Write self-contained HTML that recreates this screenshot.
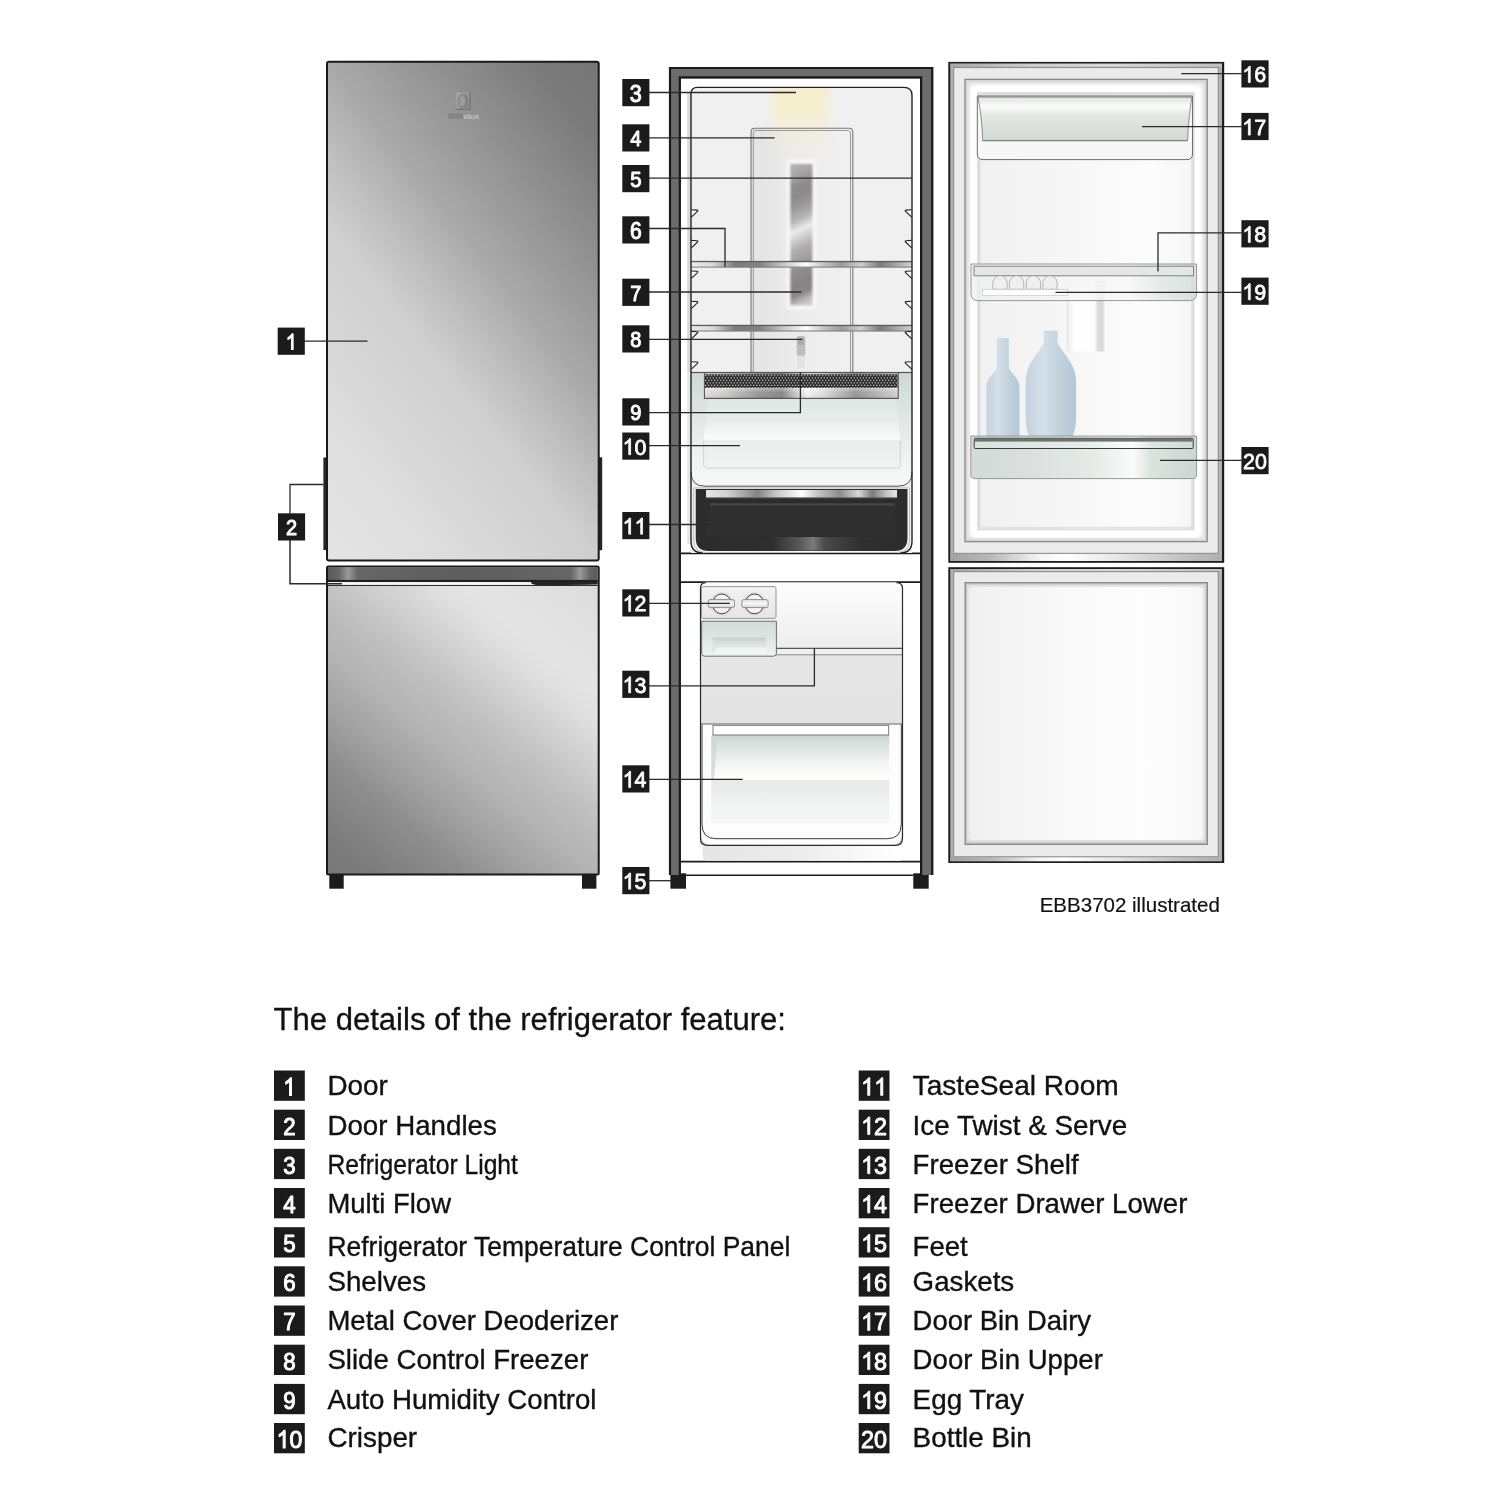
<!DOCTYPE html>
<html><head><meta charset="utf-8"><title>Refrigerator features</title>
<style>
html,body{margin:0;padding:0;background:#fff;}
body{width:1500px;height:1500px;overflow:hidden;}
svg{display:block;}
text{font-family:"Liberation Sans",sans-serif;}
</style></head><body>
<svg width="1500" height="1500" viewBox="0 0 1500 1500">
<defs>


<linearGradient id="gUp" gradientUnits="userSpaceOnUse" x1="598" y1="62" x2="189.5" y2="388.4">
 <stop offset="0" stop-color="#767676"/>
 <stop offset="0.1" stop-color="#7b7b7b"/>
 <stop offset="0.2" stop-color="#8a8a8a"/>
 <stop offset="0.405" stop-color="#a9a9a9"/>
 <stop offset="0.5" stop-color="#bdbdbd"/>
 <stop offset="0.595" stop-color="#cfcfcf"/>
 <stop offset="0.74" stop-color="#d8d8d8"/>
 <stop offset="0.85" stop-color="#dfdfdf"/>
 <stop offset="1" stop-color="#e4e4e4"/>
</linearGradient>
<linearGradient id="gLow" gradientUnits="userSpaceOnUse" x1="328" y1="875" x2="577.5" y2="574">
 <stop offset="0" stop-color="#787878"/>
 <stop offset="0.08" stop-color="#7c7c7c"/>
 <stop offset="0.23" stop-color="#8e8e8e"/>
 <stop offset="0.31" stop-color="#9e9e9e"/>
 <stop offset="0.45" stop-color="#b5b5b5"/>
 <stop offset="0.54" stop-color="#bebebe"/>
 <stop offset="0.64" stop-color="#cfcfcf"/>
 <stop offset="0.74" stop-color="#e0e0e0"/>
 <stop offset="0.8" stop-color="#e4e4e4"/>
 <stop offset="0.9" stop-color="#e1e1e1"/>
 <stop offset="1" stop-color="#dbdbdb"/>
</linearGradient>
<linearGradient id="gLogo" x1="0" y1="0" x2="1" y2="1">
 <stop offset="0" stop-color="#b2b2b2"/>
 <stop offset="0.5" stop-color="#9e9e9e"/>
 <stop offset="1" stop-color="#868686"/>
</linearGradient>
<linearGradient id="gBand" x1="0" y1="0" x2="1" y2="0">
 <stop offset="0" stop-color="#5a5a5a"/>
 <stop offset="0.04" stop-color="#666"/>
 <stop offset="0.075" stop-color="#9a9a9a"/>
 <stop offset="0.11" stop-color="#666"/>
 <stop offset="0.5" stop-color="#5e5e5e"/>
 <stop offset="0.90" stop-color="#666"/>
 <stop offset="0.935" stop-color="#9a9a9a"/>
 <stop offset="0.97" stop-color="#666"/>
 <stop offset="1" stop-color="#5a5a5a"/>
</linearGradient>
<linearGradient id="gShelf" gradientUnits="userSpaceOnUse" x1="691" y1="0" x2="912" y2="0">
 <stop offset="0" stop-color="#ececec"/>
 <stop offset="0.10" stop-color="#d8d8d8"/>
 <stop offset="0.20" stop-color="#7c7c7c"/>
 <stop offset="0.31" stop-color="#828282"/>
 <stop offset="0.42" stop-color="#c8c8c8"/>
 <stop offset="0.52" stop-color="#ffffff"/>
 <stop offset="0.60" stop-color="#c4c4c4"/>
 <stop offset="0.68" stop-color="#9a9a9a"/>
 <stop offset="0.77" stop-color="#cfcfcf"/>
 <stop offset="0.855" stop-color="#7a7a7a"/>
 <stop offset="0.93" stop-color="#a8a8a8"/>
 <stop offset="1" stop-color="#d0d0d0"/>
</linearGradient>
<linearGradient id="gMC" gradientUnits="userSpaceOnUse" x1="790" y1="163" x2="846.5" y2="285.7">
 <stop offset="0" stop-color="#b6b2b3"/>
 <stop offset="0.041" stop-color="#b3afb0"/>
 <stop offset="0.11" stop-color="#a5a1a2"/>
 <stop offset="0.175" stop-color="#908c8d"/>
 <stop offset="0.249" stop-color="#8f8b8c"/>
 <stop offset="0.323" stop-color="#9c999a"/>
 <stop offset="0.404" stop-color="#b6b4b4"/>
 <stop offset="0.478" stop-color="#ececec"/>
 <stop offset="0.532" stop-color="#d0cfcf"/>
 <stop offset="0.612" stop-color="#aeacac"/>
 <stop offset="0.666" stop-color="#a5a3a3"/>
 <stop offset="0.747" stop-color="#918e8f"/>
 <stop offset="0.848" stop-color="#858283"/>
 <stop offset="0.915" stop-color="#8c898a"/>
 <stop offset="0.962" stop-color="#b9b7b7"/>
 <stop offset="1" stop-color="#cccbcb"/>
</linearGradient>
<linearGradient id="gMetalV" x1="0" y1="0" x2="0.6" y2="1">
 <stop offset="0" stop-color="#aaa6a7"/>
 <stop offset="0.12" stop-color="#8d898a"/>
 <stop offset="0.30" stop-color="#8a8788"/>
 <stop offset="0.44" stop-color="#c9c7c7"/>
 <stop offset="0.52" stop-color="#e6e5e5"/>
 <stop offset="0.62" stop-color="#b5b2b3"/>
 <stop offset="0.78" stop-color="#8a8788"/>
 <stop offset="0.9" stop-color="#9a9898"/>
 <stop offset="1" stop-color="#c8c6c6"/>
</linearGradient>
<linearGradient id="gMetalV2" x1="0" y1="0" x2="0.8" y2="1">
 <stop offset="0" stop-color="#9a9797"/>
 <stop offset="0.35" stop-color="#8a8788"/>
 <stop offset="0.55" stop-color="#7c797a"/>
 <stop offset="0.75" stop-color="#a5a3a3"/>
 <stop offset="1" stop-color="#d2d1d1"/>
</linearGradient>
<linearGradient id="gMF" x1="0" y1="0" x2="1" y2="0">
 <stop offset="0" stop-color="#e3e3e3"/>
 <stop offset="0.35" stop-color="#eaeaea"/>
 <stop offset="0.7" stop-color="#efefef"/>
 <stop offset="1" stop-color="#f0f0f0"/>
</linearGradient>
<radialGradient id="gGlow" cx="0.5" cy="0" r="1" gradientTransform="matrix(0.62 0 0 1 0.19 0)">
 <stop offset="0" stop-color="#f6edc6" stop-opacity="1"/>
 <stop offset="0.55" stop-color="#f6efcf" stop-opacity="0.85"/>
 <stop offset="1" stop-color="#f4f0dc" stop-opacity="0"/>
</radialGradient>
<linearGradient id="gGlowH" x1="0" y1="0" x2="1" y2="0">
 <stop offset="0" stop-color="#f5eecb" stop-opacity="0"/>
 <stop offset="0.22" stop-color="#f5eecb" stop-opacity="0.95"/>
 <stop offset="0.78" stop-color="#f5eecb" stop-opacity="0.95"/>
 <stop offset="1" stop-color="#f5eecb" stop-opacity="0"/>
</linearGradient>
<linearGradient id="gGlowV" x1="0" y1="0" x2="0" y2="1">
 <stop offset="0" stop-color="#fff" stop-opacity="1"/>
 <stop offset="0.35" stop-color="#fff" stop-opacity="0.9"/>
 <stop offset="0.55" stop-color="#fff" stop-opacity="0.45"/>
 <stop offset="0.85" stop-color="#fff" stop-opacity="0.12"/>
 <stop offset="1" stop-color="#fff" stop-opacity="0"/>
</linearGradient>
<mask id="mGlow" maskUnits="userSpaceOnUse" x="755" y="85" width="92" height="80"><rect x="755" y="85" width="92" height="80" fill="url(#gGlowV)"/></mask>
<linearGradient id="gCrisp" x1="0" y1="0" x2="0" y2="1">
 <stop offset="0" stop-color="#dfe7e4"/>
 <stop offset="0.30" stop-color="#e6ece9"/>
 <stop offset="0.58" stop-color="#fbfcfb"/>
 <stop offset="0.60" stop-color="#e9eeec"/>
 <stop offset="1" stop-color="#f1f4f3"/>
</linearGradient>
<linearGradient id="gCrispOut" x1="0" y1="0" x2="0" y2="1">
 <stop offset="0" stop-color="#cdd8d5"/>
 <stop offset="0.45" stop-color="#e2e9e7"/>
 <stop offset="0.8" stop-color="#f1f4f3"/>
 <stop offset="1" stop-color="#f6f8f7"/>
</linearGradient>
<linearGradient id="gHumMetal" x1="0" y1="0" x2="1" y2="0">
 <stop offset="0" stop-color="#e4dedc"/>
 <stop offset="0.1" stop-color="#d2cdcc"/>
 <stop offset="0.28" stop-color="#9b9899"/>
 <stop offset="0.40" stop-color="#8a8889"/>
 <stop offset="0.48" stop-color="#d0d0d0"/>
 <stop offset="0.53" stop-color="#f4f4f4"/>
 <stop offset="0.62" stop-color="#dcdcdc"/>
 <stop offset="0.78" stop-color="#9a9899"/>
 <stop offset="0.9" stop-color="#b8b6b6"/>
 <stop offset="1" stop-color="#d6d4d4"/>
</linearGradient>
<linearGradient id="gHumV" x1="0" y1="0" x2="0" y2="1">
 <stop offset="0" stop-color="#fff" stop-opacity="0.45"/>
 <stop offset="0.5" stop-color="#fff" stop-opacity="0"/>
 <stop offset="1" stop-color="#000" stop-opacity="0.12"/>
</linearGradient>
<pattern id="pMesh" x="705" y="374.3" width="3" height="4.9" patternUnits="userSpaceOnUse">
 <rect width="3" height="4.9" fill="#242424"/>
 <circle cx="0.75" cy="1.22" r="0.78" fill="#d2d2d2"/>
 <circle cx="2.25" cy="3.67" r="0.78" fill="#d2d2d2"/>
</pattern>
<linearGradient id="gTSStrip" x1="0" y1="0" x2="1" y2="0">
 <stop offset="0" stop-color="#e8e6e6"/>
 <stop offset="0.12" stop-color="#d0cdcd"/>
 <stop offset="0.27" stop-color="#858283"/>
 <stop offset="0.36" stop-color="#c4c2c2"/>
 <stop offset="0.50" stop-color="#ffffff"/>
 <stop offset="0.58" stop-color="#c9c7c7"/>
 <stop offset="0.70" stop-color="#8e8b8c"/>
 <stop offset="0.80" stop-color="#d8d6d6"/>
 <stop offset="0.87" stop-color="#7d7a7b"/>
 <stop offset="0.95" stop-color="#c8c6c6"/>
 <stop offset="1" stop-color="#e5e5e5"/>
</linearGradient>
<linearGradient id="gTSHi" x1="0" y1="0" x2="1" y2="0">
 <stop offset="0" stop-color="#2c2c2c"/>
 <stop offset="0.35" stop-color="#2e2e2e"/>
 <stop offset="0.50" stop-color="#5c5c5c"/>
 <stop offset="0.56" stop-color="#7a7a7a"/>
 <stop offset="0.62" stop-color="#4a4a4a"/>
 <stop offset="0.8" stop-color="#303030"/>
 <stop offset="1" stop-color="#2c2c2c"/>
</linearGradient>
<linearGradient id="gFrzUp" x1="0" y1="0" x2="0" y2="1">
 <stop offset="0" stop-color="#fdfdfd"/>
 <stop offset="1" stop-color="#eeeeee"/>
</linearGradient>
<linearGradient id="gFrzLow" x1="0" y1="0" x2="0" y2="1">
 <stop offset="0" stop-color="#ececec"/>
 <stop offset="1" stop-color="#dadada"/>
</linearGradient>
<linearGradient id="gDrw" x1="0" y1="0" x2="0" y2="1">
 <stop offset="0" stop-color="#c6d0cd"/>
 <stop offset="0.06" stop-color="#d4dcd9"/>
 <stop offset="0.3" stop-color="#f0f3f1"/>
 <stop offset="0.45" stop-color="#fcfcfb"/>
 <stop offset="0.505" stop-color="#ffffff"/>
 <stop offset="0.515" stop-color="#e6ebe8"/>
 <stop offset="0.8" stop-color="#f0f3f1"/>
 <stop offset="1" stop-color="#f6f7f6"/>
</linearGradient>
<linearGradient id="gUnder" x1="0" y1="0" x2="1" y2="0">
 <stop offset="0" stop-color="#e6e6e6"/>
 <stop offset="0.5" stop-color="#ececec"/>
 <stop offset="0.85" stop-color="#fbfbfb"/>
 <stop offset="1" stop-color="#ffffff"/>
</linearGradient>
<linearGradient id="gIce" x1="0" y1="0" x2="0" y2="1">
 <stop offset="0" stop-color="#d2dcd8"/>
 <stop offset="0.45" stop-color="#dde5e2"/>
 <stop offset="1" stop-color="#eef3f1"/>
</linearGradient>
<linearGradient id="gRecess" x1="0" y1="0" x2="0" y2="1">
 <stop offset="0" stop-color="#c4cfcb"/>
 <stop offset="0.45" stop-color="#d6dfdb"/>
 <stop offset="1" stop-color="#e2e9e6"/>
</linearGradient>
<linearGradient id="gKnobBox" x1="0" y1="0" x2="0" y2="1">
 <stop offset="0" stop-color="#f3f3f3"/>
 <stop offset="1" stop-color="#e6e6e6"/>
</linearGradient>
<linearGradient id="gKnobBar" x1="0" y1="0" x2="0" y2="1">
 <stop offset="0" stop-color="#e0e0e0"/>
 <stop offset="0.5" stop-color="#f8f8f8"/>
 <stop offset="1" stop-color="#d4d4d4"/>
</linearGradient>
<linearGradient id="gDoorBandB" gradientUnits="userSpaceOnUse" x1="950" y1="0" x2="1222" y2="0">
 <stop offset="0" stop-color="#a2a2a2"/>
 <stop offset="0.15" stop-color="#b8b8b8"/>
 <stop offset="0.32" stop-color="#f2f2f2"/>
 <stop offset="0.42" stop-color="#ffffff"/>
 <stop offset="0.6" stop-color="#e8e8e8"/>
 <stop offset="0.85" stop-color="#c2c2c2"/>
 <stop offset="1" stop-color="#b0b0b0"/>
</linearGradient>
<linearGradient id="gDoorBandT" gradientUnits="userSpaceOnUse" x1="950" y1="0" x2="1222" y2="0">
 <stop offset="0" stop-color="#a6a6a6"/>
 <stop offset="0.3" stop-color="#cfcfcf"/>
 <stop offset="0.6" stop-color="#d8d8d8"/>
 <stop offset="1" stop-color="#c0c0c0"/>
</linearGradient>
<linearGradient id="gInnerPanel" x1="0" y1="0" x2="1" y2="0">
 <stop offset="0" stop-color="#f1f1f1"/>
 <stop offset="0.45" stop-color="#f8f7f7"/>
 <stop offset="0.8" stop-color="#fdfcfc"/>
 <stop offset="1" stop-color="#f6f6f6"/>
</linearGradient>
<linearGradient id="gLowPanel" x1="0" y1="0" x2="1" y2="0">
 <stop offset="0" stop-color="#f0f0f0"/>
 <stop offset="0.3" stop-color="#f7f7f7"/>
 <stop offset="0.75" stop-color="#fefdfd"/>
 <stop offset="1" stop-color="#f7f7f7"/>
</linearGradient>
<linearGradient id="gDairyLid" x1="0" y1="0" x2="0" y2="1">
 <stop offset="0" stop-color="#dfe3e0"/>
 <stop offset="0.10" stop-color="#eceeec"/>
 <stop offset="0.22" stop-color="#fbfcfb"/>
 <stop offset="0.40" stop-color="#e6e9e6"/>
 <stop offset="0.7" stop-color="#d9e0dc"/>
 <stop offset="1" stop-color="#d3dbd7"/>
</linearGradient>
<linearGradient id="gBinH" gradientUnits="userSpaceOnUse" x1="971" y1="0" x2="1196" y2="0">
 <stop offset="0" stop-color="#d2dbd7"/>
 <stop offset="0.25" stop-color="#d9e0dd"/>
 <stop offset="0.55" stop-color="#e6ebe8"/>
 <stop offset="0.72" stop-color="#fafbfa"/>
 <stop offset="0.80" stop-color="#dbe3df"/>
 <stop offset="1" stop-color="#ccd6d2"/>
</linearGradient>
<linearGradient id="gBinLid" gradientUnits="userSpaceOnUse" x1="974" y1="0" x2="1193" y2="0">
 <stop offset="0" stop-color="#d8e2dd"/>
 <stop offset="0.5" stop-color="#e6ece9"/>
 <stop offset="0.72" stop-color="#fcfdfc"/>
 <stop offset="0.82" stop-color="#dde5e1"/>
 <stop offset="1" stop-color="#d0dad6"/>
</linearGradient>
<linearGradient id="gBin18" gradientUnits="userSpaceOnUse" x1="971" y1="0" x2="1196" y2="0">
 <stop offset="0" stop-color="#eef1ef"/>
 <stop offset="0.45" stop-color="#f4f5f4"/>
 <stop offset="0.70" stop-color="#f7f8f7"/>
 <stop offset="0.85" stop-color="#dfe6e3"/>
 <stop offset="1" stop-color="#d3dcd9"/>
</linearGradient>
<linearGradient id="gBottle" x1="0" y1="0" x2="1" y2="0">
 <stop offset="0" stop-color="#c3d2df"/>
 <stop offset="0.35" stop-color="#d4dfe8"/>
 <stop offset="0.7" stop-color="#c0d0dc"/>
 <stop offset="1" stop-color="#b4c7d5"/>
</linearGradient>
<linearGradient id="gCarton" x1="0" y1="0" x2="1" y2="0">
 <stop offset="0" stop-color="#e8e8e8"/>
 <stop offset="0.08" stop-color="#f3f3f3"/>
 <stop offset="0.2" stop-color="#ffffff"/>
 <stop offset="0.72" stop-color="#fdfdfd"/>
 <stop offset="0.78" stop-color="#e4e4e4"/>
 <stop offset="0.84" stop-color="#d9d9d9"/>
 <stop offset="0.94" stop-color="#dcdcdc"/>
 <stop offset="0.98" stop-color="#f2f2f2"/>
 <stop offset="1" stop-color="#fafafa"/>
</linearGradient>
<filter id="gray" filterUnits="userSpaceOnUse" x="0" y="0" width="1500" height="1500" color-interpolation-filters="sRGB"><feColorMatrix type="saturate" values="0"/></filter>
<filter id="blur1" x="-20%" y="-20%" width="140%" height="140%"><feGaussianBlur stdDeviation="0.8"/></filter>
<filter id="blur2" x="-30%" y="-10%" width="160%" height="120%"><feGaussianBlur stdDeviation="1.6"/></filter>
<filter id="blur05" x="-20%" y="-20%" width="140%" height="140%"><feGaussianBlur stdDeviation="0.5"/></filter>
</defs>

<g id="left-fridge">
<rect x="323.4" y="457.5" width="4" height="92.5" fill="#262626"/>
<rect x="598.4" y="457.2" width="3.8" height="93" rx="0.8" fill="#262626"/>
<rect x="327" y="61.7" width="271.7" height="498.8" rx="2" fill="url(#gUp)" stroke="#1a1a1a" stroke-width="2"/>
<g opacity="0.62" filter="url(#blur05)"><rect x="455.9" y="92.3" width="14.2" height="17" fill="url(#gLogo)"/><path d="M470.1 92.3 V109.3 H455.9" fill="none" stroke="#646464" stroke-width="1.3"/><path d="M459 96.6 C461.6 94.4 465 94.4 467.4 96.6 V105.4 C465 107.6 461.6 107.6 459 105.4 Z" fill="#9c9c9c" stroke="#6e6e6e" stroke-width="1"/><path d="M464.6 95.4 C466.8 98 466.8 104 464.6 106.6" fill="none" stroke="#6a6a6a" stroke-width="1.1"/><path d="M459.4 96.8 L464 101 L459.4 105.2" fill="none" stroke="#b9b9b9" stroke-width="0.9"/><rect x="448.2" y="113.2" width="15.2" height="5.8" fill="#7c7c7c"/><text x="463.2" y="119.4" font-size="7.6" font-weight="bold" fill="#e2e2e2" textLength="16" lengthAdjust="spacingAndGlyphs">olux</text></g>
<rect x="329.3" y="873" width="14.4" height="15.7" fill="#1c1c1c"/>
<rect x="582" y="873" width="14.4" height="15.7" fill="#1c1c1c"/>
<rect x="327" y="566.4" width="271.7" height="308" rx="1.5" fill="url(#gLow)" stroke="#1a1a1a" stroke-width="2"/>
<rect x="328" y="567.2" width="269.7" height="13.2" fill="url(#gBand)"/>
<rect x="328" y="579.9" width="269.7" height="2.2" fill="#1e1e1e"/>
<rect x="328" y="582.1" width="269.7" height="2.6" fill="#f6f6f6"/>
<path d="M531 582 Q534 581.8 540 581.6 H597.7 V584.6 Q560 585.4 536 584.9 Q531.5 584.6 531 582 Z" fill="#242424"/>
<path d="M328 585.5 H597.7" stroke="#2c2c2c" stroke-width="1"/>
</g>
<g id="center-fridge">
<rect x="670.4" y="873.3" width="15.6" height="15.4" fill="#1c1c1c"/>
<rect x="913.3" y="873.3" width="15.4" height="15.4" fill="#1c1c1c"/>
<path d="M669 875 V67 H933.2 V875 H920 V78.4 H681 V875 Z" fill="#6c6c6c"/>
<path d="M670 875 V68 H932.2 V875" fill="none" stroke="#1a1a1a" stroke-width="2.2"/>
<path d="M679.8 875 V77.3 H921.1 V875" fill="none" stroke="#1a1a1a" stroke-width="2.2"/>
<path d="M686 875.3 H913.3" stroke="#1a1a1a" stroke-width="1.6" fill="none"/>
<path d="M681 861.7 H920" stroke="#1a1a1a" stroke-width="1.7" fill="none"/>
<path d="M681 553.4 H920" stroke="#1a1a1a" stroke-width="1.6" fill="none"/>
<path d="M681 582.2 H920" stroke="#1a1a1a" stroke-width="1.8" fill="none"/>
<rect x="687.2" y="92" width="3.4" height="280" fill="#d9d9d9"/>
<rect x="687.2" y="372" width="3.4" height="172" fill="#e4e8e6"/>
<path d="M691 553 V94 Q691 87.4 697.6 87.4 H904 Q912 87.4 912 95.4 V553 Z" fill="#f1f0f1"/>
<path d="M771.8 87.9 H829.6 L825.6 92.8 H775.8 Z" fill="#f9ead0"/>
<path d="M771.8 87.9 L775.8 92.8 M829.6 87.9 L825.6 92.8" stroke="#e9e2d2" stroke-width="0.8" fill="none"/>
<path d="M751 372 V132 Q751 128.2 754.8 128.2 H849 Q852.8 128.2 852.8 132 V372 Z" fill="url(#gMF)"/>
<g mask="url(#mGlow)"><rect x="764" y="92" width="72" height="75" fill="url(#gGlowH)"/></g>
<path d="M751 372.5 V132 Q751 128.2 754.8 128.2 H849 Q852.8 128.2 852.8 132 V372.5" fill="none" stroke="#777" stroke-width="1.1"/>
<path d="M753.3 372.5 V133.2 Q753.3 130.5 756 130.5 H847.8 Q850.5 130.5 850.5 133.2 V372.5" fill="none" stroke="#9a9a9a" stroke-width="1"/>
<rect x="786.5" y="159.5" width="29.5" height="150" rx="2" fill="#fbfbfb" opacity="0.75" filter="url(#blur2)"/>
<rect x="790.4" y="164" width="22" height="141.4" fill="url(#gMC)" filter="url(#blur1)"/>
<rect x="796.7" y="336" width="8.6" height="19.8" rx="2" fill="#bdbdbd"/>
<rect x="798" y="338" width="6" height="7" rx="1.5" fill="#a9a9a9"/>
<rect x="797.2" y="356" width="7.6" height="12" fill="#dedede" opacity="0.7"/>
<rect x="691" y="261.3" width="221" height="6" fill="url(#gShelf)"/>
<rect x="691" y="260.90000000000003" width="221" height="1.3" fill="#5c5c5c"/>
<rect x="691" y="266.6" width="221" height="1" fill="#7c7c7c"/>
<rect x="691" y="325.2" width="221" height="6" fill="url(#gShelf)"/>
<rect x="691" y="324.8" width="221" height="1.3" fill="#5c5c5c"/>
<rect x="691" y="330.5" width="221" height="1" fill="#7c7c7c"/>
<path d="M691.3 209.8 L697 210.1 Q698.4 210.4 697.4 211.4 L691.3 217.2" fill="#fff" stroke="#222" stroke-width="1.15" stroke-linejoin="round"/>
<path d="M911.7 209.8 L906 210.1 Q904.6 210.4 905.6 211.4 L911.7 217.2" fill="#fff" stroke="#222" stroke-width="1.15" stroke-linejoin="round"/>
<path d="M691.3 240.4 L697 240.7 Q698.4 241.0 697.4 242.0 L691.3 247.79999999999998" fill="#fff" stroke="#222" stroke-width="1.15" stroke-linejoin="round"/>
<path d="M911.7 240.4 L906 240.7 Q904.6 241.0 905.6 242.0 L911.7 247.79999999999998" fill="#fff" stroke="#222" stroke-width="1.15" stroke-linejoin="round"/>
<path d="M691.3 271.0 L697 271.3 Q698.4 271.59999999999997 697.4 272.59999999999997 L691.3 278.4" fill="#fff" stroke="#222" stroke-width="1.15" stroke-linejoin="round"/>
<path d="M911.7 271.0 L906 271.3 Q904.6 271.59999999999997 905.6 272.59999999999997 L911.7 278.4" fill="#fff" stroke="#222" stroke-width="1.15" stroke-linejoin="round"/>
<path d="M691.3 301.3 L697 301.6 Q698.4 301.9 697.4 302.9 L691.3 308.7" fill="#fff" stroke="#222" stroke-width="1.15" stroke-linejoin="round"/>
<path d="M911.7 301.3 L906 301.6 Q904.6 301.9 905.6 302.9 L911.7 308.7" fill="#fff" stroke="#222" stroke-width="1.15" stroke-linejoin="round"/>
<path d="M691.3 331.40000000000003 L697 331.70000000000005 Q698.4 332.0 697.4 333.0 L691.3 338.8" fill="#fff" stroke="#222" stroke-width="1.15" stroke-linejoin="round"/>
<path d="M911.7 331.40000000000003 L906 331.70000000000005 Q904.6 332.0 905.6 333.0 L911.7 338.8" fill="#fff" stroke="#222" stroke-width="1.15" stroke-linejoin="round"/>
<path d="M691.3 361.7 L697 362.0 Q698.4 362.29999999999995 697.4 363.29999999999995 L691.3 369.09999999999997" fill="#fff" stroke="#222" stroke-width="1.15" stroke-linejoin="round"/>
<path d="M911.7 361.7 L906 362.0 Q904.6 362.29999999999995 905.6 363.29999999999995 L911.7 369.09999999999997" fill="#fff" stroke="#222" stroke-width="1.15" stroke-linejoin="round"/>
<path d="M691 372.5 H912 V472 Q912 486.2 898 486.2 H705 Q691 486.2 691 472 Z" fill="url(#gCrispOut)"/>
<path d="M708 399 H896 L900.4 441 V465 Q900.4 468 897.4 468 H706.6 Q703.6 468 703.6 465 V441 Z" fill="url(#gCrisp)"/>
<path d="M703.6 441 V465 Q703.6 468 706.6 468 H897.4 Q900.4 468 900.4 465 V441" fill="none" stroke="#cbd2cf" stroke-width="0.9"/>
<path d="M691 472 Q691 486.2 705 486.2 H898 Q912 486.2 912 472" fill="none" stroke="#4d524f" stroke-width="1"/>
<rect x="704.3" y="372.5" width="194" height="26.2" fill="url(#gHumMetal)"/>
<rect x="704.3" y="386.5" width="194" height="12.2" fill="url(#gHumV)"/>
<rect x="705" y="374.3" width="192.6" height="13.5" fill="url(#pMesh)"/>
<rect x="704.4" y="372.6" width="193.8" height="25.8" fill="none" stroke="#4c4c4c" stroke-width="1"/>
<rect x="691" y="371.9" width="221" height="1.2" fill="#555"/>
<path d="M691 486.2 V541 Q691 553 703 553" fill="none" stroke="#222" stroke-width="1.4"/>
<path d="M912 486.2 V541 Q912 553 900 553" fill="none" stroke="#222" stroke-width="1.4"/>
<path d="M693.8 488 H909.4 V540 Q909.4 552.4 897 552.4 H706.2 Q693.8 552.4 693.8 540 Z" fill="#fff" stroke="#9a9a9a" stroke-width="0.7"/>
<path d="M695.7 489 H907.5 V538 Q907.5 551 894.5 551 H708.7 Q695.7 551 695.7 538 Z" fill="#2c2c2c"/>
<rect x="706" y="490" width="191" height="7.9" fill="url(#gTSStrip)"/>
<rect x="706" y="497.4" width="191" height="1" fill="#555"/>
<path d="M710 503.5 H895 L896.5 534 Q896.5 536 894.5 536 H706.5 Q704.5 536 704.8 534 Z" fill="#303030"/>
<rect x="710" y="503.3" width="185" height="2.2" fill="#474747" filter="url(#blur05)"/>
<path d="M705 537 H898 V544 Q896 550.6 890 550.6 H712 Q706 550.6 705 544 Z" fill="url(#gTSHi)"/>
<path d="M691 486.5 V94 Q691 87.4 697.6 87.4 H904 Q912 87.4 912 95.4 V486.5" fill="none" stroke="#222" stroke-width="1.4"/>
<path d="M700 845.3 V588 Q700 582.6 705.4 582.6 H896 Q902 582.6 902 588.6 V845.3 Z" fill="url(#gFrzLow)"/>
<path d="M700 648.4 V588 Q700 582.6 705.4 582.6 H896 Q902 582.6 902 588.6 V648.4 Z" fill="url(#gFrzUp)"/>
<rect x="776" y="648.4" width="126" height="6.4" fill="#efefef"/>
<path d="M776 648.4 H902" stroke="#555" stroke-width="1.1"/>
<path d="M776 654.8 H902" stroke="#888" stroke-width="1"/>
<rect x="701.3" y="586.6" width="74.7" height="31.8" rx="2" fill="url(#gKnobBox)" stroke="#8a8a8a" stroke-width="0.9"/>
<ellipse cx="721.8" cy="603.9" rx="11.2" ry="11.4" fill="none" stroke="#e0e0e0" stroke-width="1.6"/>
<ellipse cx="721.8" cy="603.9" rx="9.4" ry="9.9" fill="#f4f4f4" stroke="#3c3c3c" stroke-width="1"/>
<rect x="708.3" y="599.6" width="26.2" height="8" rx="1.8" fill="url(#gKnobBar)" stroke="#777" stroke-width="0.8"/>
<ellipse cx="754.5" cy="603.9" rx="11.2" ry="11.4" fill="none" stroke="#e0e0e0" stroke-width="1.6"/>
<ellipse cx="754.5" cy="603.9" rx="9.4" ry="9.9" fill="#f4f4f4" stroke="#3c3c3c" stroke-width="1"/>
<rect x="741.9" y="599.6" width="26.2" height="8" rx="1.8" fill="url(#gKnobBar)" stroke="#777" stroke-width="0.8"/>
<path d="M701.7 621.2 H776.4 V653.2 Q776.4 656.2 773.4 656.2 H704.7 Q701.7 656.2 701.7 653.2 Z" fill="url(#gIce)" stroke="#5a605d" stroke-width="0.9"/>
<path d="M712 637.5 H766 V648 H712 Z" fill="url(#gRecess)" filter="url(#blur05)"/>
<path d="M716.8 647.6 H766.4 V653.6 H712.6 Z" fill="#f1f5f3"/>
<path d="M712 638 V653.4 L716.8 647.6" fill="#dfe6e3" stroke="none"/>
<path d="M700.6 724 H902 V832 Q902 845.3 889 845.3 H713.6 Q700.6 845.3 700.6 832 Z" fill="#fdfdfd"/>
<path d="M700 724 H902" stroke="#666" stroke-width="1"/>
<rect x="711.3" y="735" width="178" height="87.7" rx="2" fill="url(#gDrw)"/>
<path d="M711.3 736 L717.5 736 L714 780 L711.3 780 Z" fill="#cfd8d5" opacity="0.8"/>
<rect x="713" y="725.3" width="175.7" height="9.7" fill="#fff" stroke="#6d6d6d" stroke-width="0.9"/>
<path d="M702 724.5 V824 Q702 838.7 716 838.7 H887.3 Q901.3 838.7 901.3 824 V724.5" fill="none" stroke="#3a3d3c" stroke-width="1"/>
<path d="M702.4 846 H901 V860.8 H708 Q702.4 860.8 702.4 855 Z" fill="url(#gUnder)"/>
<path d="M706 582.6 Q700.5 582.6 700.5 588 V838 Q700.5 845.4 707.8 845.4 H895.2 Q902.5 845.4 902.5 838 V588.6 Q902.5 582.6 896.5 582.6" fill="none" stroke="#2a2a2a" stroke-width="1.2"/>
</g>
<g id="right-doors">
<rect x="948.3" y="61.9" width="275.9000000000001" height="500.9" fill="#1d1d1d"/>
<rect x="950.3" y="63.699999999999996" width="271.70000000000005" height="497.3" fill="#b2b2b2"/>
<rect x="950.3" y="63.699999999999996" width="271.70000000000005" height="3.2" fill="url(#gDoorBandT)"/>
<rect x="950.3" y="553.8" width="271.70000000000005" height="7.2" fill="url(#gDoorBandB)"/>
<rect x="953.0999999999999" y="66.89999999999999" width="265.70000000000005" height="486.9" fill="#8f8f8f"/>
<rect x="954.1999999999999" y="68.1" width="263.50000000000006" height="484.7" fill="#ebebeb"/>
<rect x="964.3" y="78.7" width="243.6" height="463.6" fill="#8a8a8a"/>
<rect x="965.6" y="80" width="241" height="461" fill="#d4d4d4"/>
<rect x="967.2" y="81.8" width="237.6" height="457.6" rx="3" fill="#e6e6e6"/>
<rect x="969.2" y="84" width="233.4" height="454" rx="5" fill="#f6f6f6"/>
<rect x="971" y="86" width="229.6" height="451" rx="6" fill="#ffffff"/>
<rect x="977" y="92" width="217.6" height="438.4" fill="#dedede"/>
<rect x="980.6" y="95.4" width="210.6" height="433" fill="url(#gInnerPanel)"/>
<rect x="980.6" y="526.8" width="210.6" height="1.6" fill="#e2e2e2"/>
<rect x="1066.5" y="281" width="39" height="70.5" fill="url(#gCarton)" filter="url(#blur05)"/>
<path d="M996.2 337.6 H1009.3 V366 C1009.3 374 1020 375 1020 387 V436.5 H985.8 V387 C985.8 375 996.2 374 996.2 366 Z" fill="url(#gBottle)" stroke="#eef2f6" stroke-width="1.2"/>
<path d="M1043.2 330.2 H1058 V339.5 Q1057.2 340.5 1057.8 342 L1058.4 343.5 C1062 351 1076.6 364 1076.6 381 V420 C1076.6 428 1074.5 432 1073 436.5 H1028.4 C1027 432 1025.1 428 1025.1 420 V381 C1025.1 364 1039.6 351 1043 343.5 L1043.4 342 Q1044 340.5 1043.2 339.5 Z" fill="url(#gBottle)" stroke="#eef2f6" stroke-width="1.2"/>
<path d="M977.3 96 H1192.5 V154 Q1192.5 159.6 1187 159.6 H983 Q977.3 159.6 977.3 154 Z" fill="#f7f7f7" stroke="#6e6e6e" stroke-width="1"/>
<path d="M978 97 H1191.8 C1190 110 1188 125 1187.5 140.6 H982.7 C982.3 125 980.5 110 978 97 Z" fill="url(#gDairyLid)"/>
<path d="M982.7 140.6 H1187.5" stroke="#7a7f7c" stroke-width="1.3"/>
<path d="M978 97 H1191.8" stroke="#7a7d7b" stroke-width="1"/>
<path d="M978 97 C980.5 110 982.3 125 982.7 140.6" fill="none" stroke="#777" stroke-width="0.8"/>
<path d="M1191.8 97 C1190 110 1188 125 1187.5 140.6" fill="none" stroke="#777" stroke-width="0.8"/>
<path d="M971 264 H1196.6 V293.5 Q1196.6 300.6 1189.5 300.6 H978 Q971 300.6 971 293.5 Z" fill="url(#gBin18)" fill-opacity="0.8" stroke="#8c8c8c" stroke-width="0.9"/>
<rect x="974" y="266.2" width="219.5" height="9.6" fill="#e3e8e5" stroke="#787878" stroke-width="0.9"/>
<path d="M992.8 289.3 V284 C992.8 273 1007.2 273 1007.2 284 V289.3 Z" fill="#efefef" stroke="#a5a5a5" stroke-width="0.8"/>
<path d="M1009.4 289.3 V284 C1009.4 273 1023.8000000000001 273 1023.8000000000001 284 V289.3 Z" fill="#efefef" stroke="#a5a5a5" stroke-width="0.8"/>
<path d="M1026.2 289.3 V284 C1026.2 273 1040.6000000000001 273 1040.6000000000001 284 V289.3 Z" fill="#efefef" stroke="#a5a5a5" stroke-width="0.8"/>
<path d="M1042.8 289.3 V284 C1042.8 273 1057.2 273 1057.2 284 V289.3 Z" fill="#efefef" stroke="#a5a5a5" stroke-width="0.8"/>
<rect x="982.5" y="289.5" width="85" height="6" fill="#fdfdfd" stroke="#c8c8c8" stroke-width="0.7"/>
<path d="M970.8 436.1 H1196.6 V474.5 Q1196.6 478.6 1192.5 478.6 H975 Q970.8 478.6 970.8 474.5 Z" fill="url(#gBinH)" stroke="#8a8f8c" stroke-width="0.9"/>
<rect x="974.2" y="438.3" width="219" height="10.2" rx="1" fill="url(#gBinLid)" stroke="#3c3c3c" stroke-width="1"/>
<rect x="974.8" y="438.8" width="217.8" height="2.8" fill="#6d726f"/>
<rect x="948.3" y="567.2" width="275.9000000000001" height="295.79999999999995" fill="#1d1d1d"/>
<rect x="950.3" y="569.0" width="271.70000000000005" height="292.20000000000005" fill="#b2b2b2"/>
<rect x="950.3" y="569.0" width="271.70000000000005" height="2" fill="url(#gDoorBandT)"/>
<rect x="950.3" y="857.2" width="271.70000000000005" height="4" fill="url(#gDoorBandB)"/>
<rect x="953.0999999999999" y="571.0" width="265.70000000000005" height="286.20000000000005" fill="#8f8f8f"/>
<rect x="954.1999999999999" y="572.2" width="263.50000000000006" height="284.00000000000006" fill="#ebebeb"/>
<rect x="964.5" y="582" width="243.5" height="263" fill="#8a8a8a"/>
<rect x="965.9" y="583.4" width="240.7" height="260.2" fill="#cfcfcf"/>
<rect x="967.4" y="585" width="237.6" height="256.6" rx="3" fill="#e4e4e4"/>
<rect x="969.4" y="587" width="233.4" height="253" rx="4" fill="url(#gLowPanel)"/>
</g>
<g id="leaders" fill="none" stroke="#2a2a2a" stroke-width="1.3">
<path d="M304 341.2 H367.6"/>
<path d="M290 513.5 V484.5 H323.6"/>
<path d="M290 540 V583.7 H342" stroke-width="1.5"/>
<path d="M649 92.5 H796"/>
<path d="M649 137.9 H774.6"/>
<path d="M649 178.2 H912"/>
<path d="M649 228.5 H725 V266.8"/>
<path d="M649 292 H801.4"/>
<path d="M649 339.3 H802.3"/>
<path d="M649 412.6 H800.4 V372.5"/>
<path d="M649 445.7 H740"/>
<path d="M649 524.5 H711.5"/>
<path d="M649 603.4 H729.8"/>
<path d="M649 685.8 H814.4 V648.4"/>
<path d="M649 779.3 H742.7"/>
<path d="M649 880.7 H671"/>
<path d="M1241.5 73.6 H1181.2"/>
<path d="M1241.5 126.7 H1142"/>
<path d="M1241.5 232.9 H1158 V271.6"/>
<path d="M1241.5 292.4 H1055.5"/>
<path d="M1241.5 460.3 H1160"/>
</g>
<g id="labels" filter="url(#gray)">
<rect x="277.7" y="327.6" width="27.1" height="27.2" fill="#1b1b1b"/><g transform="translate(291.25,349.55) scale(0.9,1)" fill="#fff" stroke="#fff" stroke-width="1.0" stroke-linejoin="round"><path transform="translate(-6.17,0) scale(0.01084,-0.01084)" d="M763 0H583V1147Q518 1085 412.5 1023T223 930V1104Q373 1174.5 485 1274.5T644 1466H763Z" stroke-width="92.3"/></g>
<rect x="278" y="513.3" width="27.1" height="27.2" fill="#1b1b1b"/><g transform="translate(291.55,535.25) scale(0.9,1)" fill="#fff" stroke="#fff" stroke-width="1.0" stroke-linejoin="round"><text x="-6.17" y="0" font-size="22.2">2</text></g>
<rect x="622.3" y="79" width="27.1" height="27.2" fill="#1b1b1b"/><g transform="translate(635.85,101.59) scale(0.9,1)" fill="#fff" stroke="#fff" stroke-width="1.0" stroke-linejoin="round"><text x="-6.67" y="0" font-size="24.0">3</text></g>
<rect x="622.3" y="124.3" width="27.1" height="27.2" fill="#1b1b1b"/><g transform="translate(635.85,146.25) scale(0.9,1)" fill="#fff" stroke="#fff" stroke-width="1.0" stroke-linejoin="round"><text x="-6.17" y="0" font-size="22.2">4</text></g>
<rect x="622.3" y="165" width="27.1" height="27.2" fill="#1b1b1b"/><g transform="translate(635.85,187.13) scale(0.9,1)" fill="#fff" stroke="#fff" stroke-width="1.0" stroke-linejoin="round"><text x="-6.31" y="0" font-size="22.7">5</text></g>
<rect x="622.3" y="216.3" width="27.1" height="27.2" fill="#1b1b1b"/><g transform="translate(635.85,238.68) scale(0.9,1)" fill="#fff" stroke="#fff" stroke-width="1.0" stroke-linejoin="round"><text x="-6.51" y="0" font-size="23.4">6</text></g>
<rect x="622.3" y="278.7" width="27.1" height="27.2" fill="#1b1b1b"/><g transform="translate(635.85,300.65) scale(0.9,1)" fill="#fff" stroke="#fff" stroke-width="1.0" stroke-linejoin="round"><text x="-6.17" y="0" font-size="22.2">7</text></g>
<rect x="622.3" y="325.3" width="27.1" height="27.2" fill="#1b1b1b"/><g transform="translate(635.85,347.25) scale(0.9,1)" fill="#fff" stroke="#fff" stroke-width="1.0" stroke-linejoin="round"><text x="-6.17" y="0" font-size="22.2">8</text></g>
<rect x="622.3" y="398.3" width="27.1" height="27.2" fill="#1b1b1b"/><g transform="translate(635.85,420.25) scale(0.9,1)" fill="#fff" stroke="#fff" stroke-width="1.0" stroke-linejoin="round"><text x="-6.17" y="0" font-size="22.2">9</text></g>
<rect x="622.3" y="432.5" width="27.1" height="27.2" fill="#1b1b1b"/><g transform="translate(634.55,454.69) scale(0.95,1)" fill="#fff" stroke="#fff" stroke-width="0.8" stroke-linejoin="round"><path transform="translate(-12.57,0) scale(0.01104,-0.01104)" d="M763 0H583V1147Q518 1085 412.5 1023T223 930V1104Q373 1174.5 485 1274.5T644 1466H763Z" stroke-width="72.5"/><text x="0.00" y="0" font-size="22.6">0</text></g>
<rect x="622.3" y="512" width="27.1" height="27.2" fill="#1b1b1b"/><g transform="translate(634.55,534.19) scale(0.95,1)" fill="#fff" stroke="#fff" stroke-width="0.8" stroke-linejoin="round"><path transform="translate(-12.57,0) scale(0.01104,-0.01104)" d="M763 0H583V1147Q518 1085 412.5 1023T223 930V1104Q373 1174.5 485 1274.5T644 1466H763Z" stroke-width="72.5"/><path transform="translate(0.00,0) scale(0.01104,-0.01104)" d="M763 0H583V1147Q518 1085 412.5 1023T223 930V1104Q373 1174.5 485 1274.5T644 1466H763Z" stroke-width="72.5"/></g>
<rect x="622.3" y="589.3" width="27.1" height="27.2" fill="#1b1b1b"/><g transform="translate(634.55,611.49) scale(0.95,1)" fill="#fff" stroke="#fff" stroke-width="0.8" stroke-linejoin="round"><path transform="translate(-12.57,0) scale(0.01104,-0.01104)" d="M763 0H583V1147Q518 1085 412.5 1023T223 930V1104Q373 1174.5 485 1274.5T644 1466H763Z" stroke-width="72.5"/><text x="0.00" y="0" font-size="22.6">2</text></g>
<rect x="622.3" y="670.7" width="27.1" height="27.2" fill="#1b1b1b"/><g transform="translate(634.55,692.89) scale(0.95,1)" fill="#fff" stroke="#fff" stroke-width="0.8" stroke-linejoin="round"><path transform="translate(-12.57,0) scale(0.01104,-0.01104)" d="M763 0H583V1147Q518 1085 412.5 1023T223 930V1104Q373 1174.5 485 1274.5T644 1466H763Z" stroke-width="72.5"/><text x="0.00" y="0" font-size="22.6">3</text></g>
<rect x="622.3" y="765.3" width="27.1" height="27.2" fill="#1b1b1b"/><g transform="translate(634.55,787.49) scale(0.95,1)" fill="#fff" stroke="#fff" stroke-width="0.8" stroke-linejoin="round"><path transform="translate(-12.57,0) scale(0.01104,-0.01104)" d="M763 0H583V1147Q518 1085 412.5 1023T223 930V1104Q373 1174.5 485 1274.5T644 1466H763Z" stroke-width="72.5"/><text x="0.00" y="0" font-size="22.6">4</text></g>
<rect x="622.3" y="867" width="27.1" height="27.2" fill="#1b1b1b"/><g transform="translate(634.55,889.19) scale(0.95,1)" fill="#fff" stroke="#fff" stroke-width="0.8" stroke-linejoin="round"><path transform="translate(-12.57,0) scale(0.01104,-0.01104)" d="M763 0H583V1147Q518 1085 412.5 1023T223 930V1104Q373 1174.5 485 1274.5T644 1466H763Z" stroke-width="72.5"/><text x="0.00" y="0" font-size="22.6">5</text></g>
<rect x="1241.4" y="60.3" width="27.2" height="27.2" fill="#1b1b1b"/><g transform="translate(1254.20,82.49) scale(0.95,1)" fill="#fff" stroke="#fff" stroke-width="0.8" stroke-linejoin="round"><path transform="translate(-12.57,0) scale(0.01104,-0.01104)" d="M763 0H583V1147Q518 1085 412.5 1023T223 930V1104Q373 1174.5 485 1274.5T644 1466H763Z" stroke-width="72.5"/><text x="0.00" y="0" font-size="22.6">6</text></g>
<rect x="1241.4" y="112.9" width="27.2" height="27.2" fill="#1b1b1b"/><g transform="translate(1254.20,135.09) scale(0.95,1)" fill="#fff" stroke="#fff" stroke-width="0.8" stroke-linejoin="round"><path transform="translate(-12.57,0) scale(0.01104,-0.01104)" d="M763 0H583V1147Q518 1085 412.5 1023T223 930V1104Q373 1174.5 485 1274.5T644 1466H763Z" stroke-width="72.5"/><text x="0.00" y="0" font-size="22.6">7</text></g>
<rect x="1241.4" y="220.2" width="27.2" height="27.2" fill="#1b1b1b"/><g transform="translate(1254.20,242.39) scale(0.95,1)" fill="#fff" stroke="#fff" stroke-width="0.8" stroke-linejoin="round"><path transform="translate(-12.57,0) scale(0.01104,-0.01104)" d="M763 0H583V1147Q518 1085 412.5 1023T223 930V1104Q373 1174.5 485 1274.5T644 1466H763Z" stroke-width="72.5"/><text x="0.00" y="0" font-size="22.6">8</text></g>
<rect x="1241.4" y="277.6" width="27.2" height="27.2" fill="#1b1b1b"/><g transform="translate(1254.20,299.79) scale(0.95,1)" fill="#fff" stroke="#fff" stroke-width="0.8" stroke-linejoin="round"><path transform="translate(-12.57,0) scale(0.01104,-0.01104)" d="M763 0H583V1147Q518 1085 412.5 1023T223 930V1104Q373 1174.5 485 1274.5T644 1466H763Z" stroke-width="72.5"/><text x="0.00" y="0" font-size="22.6">9</text></g>
<rect x="1241.4" y="447" width="27.2" height="27.2" fill="#1b1b1b"/><g transform="translate(1255.00,469.19) scale(0.95,1)" fill="#fff" stroke="#fff" stroke-width="0.8" stroke-linejoin="round"><text x="-12.57" y="0" font-size="22.6">2</text><text x="0.00" y="0" font-size="22.6">0</text></g>
</g>
<g id="text" fill="#111" filter="url(#gray)">
<text x="1039.7" y="911.8" font-size="20.2" textLength="180.15" lengthAdjust="spacingAndGlyphs" stroke="#111" stroke-width="0.2">EBB3702 illustrated</text>
<text x="273.6" y="1030.2" font-size="31" textLength="512.33" lengthAdjust="spacingAndGlyphs" stroke="#111" stroke-width="0.3">The details of the refrigerator feature:</text>
<rect x="274" y="1070.5" width="30.8" height="30.3" fill="#1b1b1b"/><g transform="translate(289.40,1095.43) scale(0.9,1)" fill="#fff" stroke="#fff" stroke-width="1.05" stroke-linejoin="round"><path transform="translate(-6.90,0) scale(0.01211,-0.01211)" d="M763 0H583V1147Q518 1085 412.5 1023T223 930V1104Q373 1174.5 485 1274.5T644 1466H763Z" stroke-width="86.7"/></g>
<text x="327.4" y="1095.4" font-size="27.6" textLength="60.46" lengthAdjust="spacingAndGlyphs" stroke="#111" stroke-width="0.35">Door</text>
<rect x="274" y="1109.7" width="30.8" height="30.3" fill="#1b1b1b"/><g transform="translate(289.40,1134.63) scale(0.9,1)" fill="#fff" stroke="#fff" stroke-width="1.05" stroke-linejoin="round"><text x="-6.90" y="0" font-size="24.8">2</text></g>
<text x="327.4" y="1134.9" font-size="27.6" textLength="169.43" lengthAdjust="spacingAndGlyphs" stroke="#111" stroke-width="0.35">Door Handles</text>
<rect x="274" y="1148.8" width="30.8" height="30.3" fill="#1b1b1b"/><g transform="translate(289.40,1173.73) scale(0.9,1)" fill="#fff" stroke="#fff" stroke-width="1.05" stroke-linejoin="round"><text x="-6.90" y="0" font-size="24.8">3</text></g>
<text x="327.4" y="1173.8" font-size="27.6" textLength="190.55" lengthAdjust="spacingAndGlyphs" stroke="#111" stroke-width="0.35">Refrigerator Light</text>
<rect x="274" y="1188.0" width="30.8" height="30.3" fill="#1b1b1b"/><g transform="translate(289.40,1212.93) scale(0.9,1)" fill="#fff" stroke="#fff" stroke-width="1.05" stroke-linejoin="round"><text x="-6.90" y="0" font-size="24.8">4</text></g>
<text x="327.4" y="1213" font-size="27.6" textLength="123.58" lengthAdjust="spacingAndGlyphs" stroke="#111" stroke-width="0.35">Multi Flow</text>
<rect x="274" y="1227.2" width="30.8" height="30.3" fill="#1b1b1b"/><g transform="translate(289.40,1252.13) scale(0.9,1)" fill="#fff" stroke="#fff" stroke-width="1.05" stroke-linejoin="round"><text x="-6.90" y="0" font-size="24.8">5</text></g>
<text x="327.4" y="1255.6" font-size="27.6" textLength="463.04" lengthAdjust="spacingAndGlyphs" stroke="#111" stroke-width="0.35">Refrigerator Temperature Control Panel</text>
<rect x="274" y="1266.3" width="30.8" height="30.3" fill="#1b1b1b"/><g transform="translate(289.40,1291.23) scale(0.9,1)" fill="#fff" stroke="#fff" stroke-width="1.05" stroke-linejoin="round"><text x="-6.90" y="0" font-size="24.8">6</text></g>
<text x="327.4" y="1290.6" font-size="27.6" textLength="98.63" lengthAdjust="spacingAndGlyphs" stroke="#111" stroke-width="0.35">Shelves</text>
<rect x="274" y="1305.5" width="30.8" height="30.3" fill="#1b1b1b"/><g transform="translate(289.40,1330.43) scale(0.9,1)" fill="#fff" stroke="#fff" stroke-width="1.05" stroke-linejoin="round"><text x="-6.90" y="0" font-size="24.8">7</text></g>
<text x="327.4" y="1329.9" font-size="27.6" textLength="290.96" lengthAdjust="spacingAndGlyphs" stroke="#111" stroke-width="0.35">Metal Cover Deoderizer</text>
<rect x="274" y="1344.7" width="30.8" height="30.3" fill="#1b1b1b"/><g transform="translate(289.40,1369.63) scale(0.9,1)" fill="#fff" stroke="#fff" stroke-width="1.05" stroke-linejoin="round"><text x="-6.90" y="0" font-size="24.8">8</text></g>
<text x="327.4" y="1369.3" font-size="27.6" textLength="260.96" lengthAdjust="spacingAndGlyphs" stroke="#111" stroke-width="0.35">Slide Control Freezer</text>
<rect x="274" y="1383.9" width="30.8" height="30.3" fill="#1b1b1b"/><g transform="translate(289.40,1408.83) scale(0.9,1)" fill="#fff" stroke="#fff" stroke-width="1.05" stroke-linejoin="round"><text x="-6.90" y="0" font-size="24.8">9</text></g>
<text x="327.4" y="1408.5" font-size="27.6" textLength="269.12" lengthAdjust="spacingAndGlyphs" stroke="#111" stroke-width="0.35">Auto Humidity Control</text>
<rect x="274" y="1423.0" width="30.8" height="30.3" fill="#1b1b1b"/><g transform="translate(289.40,1447.93) scale(0.93,1)" fill="#fff" stroke="#fff" stroke-width="1.05" stroke-linejoin="round"><path transform="translate(-13.79,0) scale(0.01211,-0.01211)" d="M763 0H583V1147Q518 1085 412.5 1023T223 930V1104Q373 1174.5 485 1274.5T644 1466H763Z" stroke-width="86.7"/><text x="0.00" y="0" font-size="24.8">0</text></g>
<text x="327.4" y="1447" font-size="27.6" textLength="89.76" lengthAdjust="spacingAndGlyphs" stroke="#111" stroke-width="0.35">Crisper</text>
<rect x="858.7" y="1070.5" width="30.8" height="30.3" fill="#1b1b1b"/><g transform="translate(874.10,1095.36) scale(0.95,1)" fill="#fff" stroke="#fff" stroke-width="0.95" stroke-linejoin="round"><path transform="translate(-13.68,0) scale(0.01201,-0.01201)" d="M763 0H583V1147Q518 1085 412.5 1023T223 930V1104Q373 1174.5 485 1274.5T644 1466H763Z" stroke-width="79.1"/><path transform="translate(0.00,0) scale(0.01201,-0.01201)" d="M763 0H583V1147Q518 1085 412.5 1023T223 930V1104Q373 1174.5 485 1274.5T644 1466H763Z" stroke-width="79.1"/></g>
<text x="912.6" y="1095.4" font-size="27.6" textLength="206.17" lengthAdjust="spacingAndGlyphs" stroke="#111" stroke-width="0.35">TasteSeal Room</text>
<rect x="858.7" y="1109.7" width="30.8" height="30.3" fill="#1b1b1b"/><g transform="translate(874.10,1134.56) scale(0.95,1)" fill="#fff" stroke="#fff" stroke-width="0.95" stroke-linejoin="round"><path transform="translate(-13.68,0) scale(0.01201,-0.01201)" d="M763 0H583V1147Q518 1085 412.5 1023T223 930V1104Q373 1174.5 485 1274.5T644 1466H763Z" stroke-width="79.1"/><text x="0.00" y="0" font-size="24.6">2</text></g>
<text x="912.6" y="1134.9" font-size="27.6" textLength="214.70" lengthAdjust="spacingAndGlyphs" stroke="#111" stroke-width="0.35">Ice Twist &amp; Serve</text>
<rect x="858.7" y="1148.8" width="30.8" height="30.3" fill="#1b1b1b"/><g transform="translate(874.10,1173.66) scale(0.95,1)" fill="#fff" stroke="#fff" stroke-width="0.95" stroke-linejoin="round"><path transform="translate(-13.68,0) scale(0.01201,-0.01201)" d="M763 0H583V1147Q518 1085 412.5 1023T223 930V1104Q373 1174.5 485 1274.5T644 1466H763Z" stroke-width="79.1"/><text x="0.00" y="0" font-size="24.6">3</text></g>
<text x="912.6" y="1173.8" font-size="27.6" textLength="166.04" lengthAdjust="spacingAndGlyphs" stroke="#111" stroke-width="0.35">Freezer Shelf</text>
<rect x="858.7" y="1188.0" width="30.8" height="30.3" fill="#1b1b1b"/><g transform="translate(874.10,1212.86) scale(0.95,1)" fill="#fff" stroke="#fff" stroke-width="0.95" stroke-linejoin="round"><path transform="translate(-13.68,0) scale(0.01201,-0.01201)" d="M763 0H583V1147Q518 1085 412.5 1023T223 930V1104Q373 1174.5 485 1274.5T644 1466H763Z" stroke-width="79.1"/><text x="0.00" y="0" font-size="24.6">4</text></g>
<text x="912.6" y="1213" font-size="27.6" textLength="274.76" lengthAdjust="spacingAndGlyphs" stroke="#111" stroke-width="0.35">Freezer Drawer Lower</text>
<rect x="858.7" y="1227.2" width="30.8" height="30.3" fill="#1b1b1b"/><g transform="translate(874.10,1252.06) scale(0.95,1)" fill="#fff" stroke="#fff" stroke-width="0.95" stroke-linejoin="round"><path transform="translate(-13.68,0) scale(0.01201,-0.01201)" d="M763 0H583V1147Q518 1085 412.5 1023T223 930V1104Q373 1174.5 485 1274.5T644 1466H763Z" stroke-width="79.1"/><text x="0.00" y="0" font-size="24.6">5</text></g>
<text x="912.6" y="1255.6" font-size="27.6" textLength="55.14" lengthAdjust="spacingAndGlyphs" stroke="#111" stroke-width="0.35">Feet</text>
<rect x="858.7" y="1266.3" width="30.8" height="30.3" fill="#1b1b1b"/><g transform="translate(874.10,1291.16) scale(0.95,1)" fill="#fff" stroke="#fff" stroke-width="0.95" stroke-linejoin="round"><path transform="translate(-13.68,0) scale(0.01201,-0.01201)" d="M763 0H583V1147Q518 1085 412.5 1023T223 930V1104Q373 1174.5 485 1274.5T644 1466H763Z" stroke-width="79.1"/><text x="0.00" y="0" font-size="24.6">6</text></g>
<text x="912.6" y="1290.6" font-size="27.6" textLength="101.63" lengthAdjust="spacingAndGlyphs" stroke="#111" stroke-width="0.35">Gaskets</text>
<rect x="858.7" y="1305.5" width="30.8" height="30.3" fill="#1b1b1b"/><g transform="translate(874.10,1330.36) scale(0.95,1)" fill="#fff" stroke="#fff" stroke-width="0.95" stroke-linejoin="round"><path transform="translate(-13.68,0) scale(0.01201,-0.01201)" d="M763 0H583V1147Q518 1085 412.5 1023T223 930V1104Q373 1174.5 485 1274.5T644 1466H763Z" stroke-width="79.1"/><text x="0.00" y="0" font-size="24.6">7</text></g>
<text x="912.6" y="1329.9" font-size="27.6" textLength="178.40" lengthAdjust="spacingAndGlyphs" stroke="#111" stroke-width="0.35">Door Bin Dairy</text>
<rect x="858.7" y="1344.7" width="30.8" height="30.3" fill="#1b1b1b"/><g transform="translate(874.10,1369.56) scale(0.95,1)" fill="#fff" stroke="#fff" stroke-width="0.95" stroke-linejoin="round"><path transform="translate(-13.68,0) scale(0.01201,-0.01201)" d="M763 0H583V1147Q518 1085 412.5 1023T223 930V1104Q373 1174.5 485 1274.5T644 1466H763Z" stroke-width="79.1"/><text x="0.00" y="0" font-size="24.6">8</text></g>
<text x="912.6" y="1369.3" font-size="27.6" textLength="190.26" lengthAdjust="spacingAndGlyphs" stroke="#111" stroke-width="0.35">Door Bin Upper</text>
<rect x="858.7" y="1383.9" width="30.8" height="30.3" fill="#1b1b1b"/><g transform="translate(874.10,1408.76) scale(0.95,1)" fill="#fff" stroke="#fff" stroke-width="0.95" stroke-linejoin="round"><path transform="translate(-13.68,0) scale(0.01201,-0.01201)" d="M763 0H583V1147Q518 1085 412.5 1023T223 930V1104Q373 1174.5 485 1274.5T644 1466H763Z" stroke-width="79.1"/><text x="0.00" y="0" font-size="24.6">9</text></g>
<text x="912.6" y="1408.5" font-size="27.6" textLength="111.40" lengthAdjust="spacingAndGlyphs" stroke="#111" stroke-width="0.35">Egg Tray</text>
<rect x="858.7" y="1423.0" width="30.8" height="30.3" fill="#1b1b1b"/><g transform="translate(874.10,1447.86) scale(0.95,1)" fill="#fff" stroke="#fff" stroke-width="0.95" stroke-linejoin="round"><text x="-13.68" y="0" font-size="24.6">2</text><text x="0.00" y="0" font-size="24.6">0</text></g>
<text x="912.6" y="1447" font-size="27.6" textLength="119.16" lengthAdjust="spacingAndGlyphs" stroke="#111" stroke-width="0.35">Bottle Bin</text>
</g>
</svg></body></html>
